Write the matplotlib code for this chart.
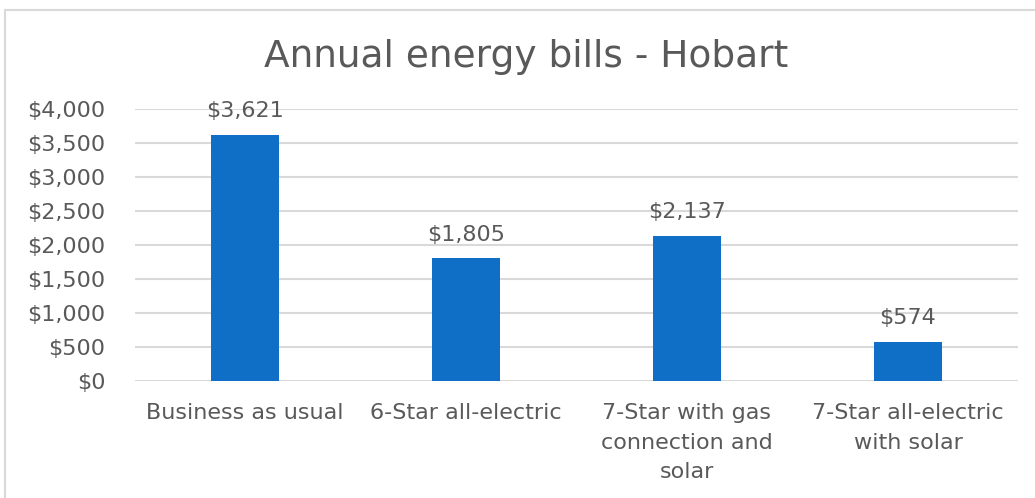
import matplotlib.pyplot as plt
from matplotlib.patches import Rectangle

categories = ["Business as usual", "6-Star all-electric",
              "7-Star with gas\nconnection and\nsolar", "7-Star all-electric\nwith solar"]
bills = [3621, 1805, 2137, 574]
y_ticks = [0, 500, 1000, 1500, 2000, 2500, 3000, 3500, 4000]

text_color = "#595959"
bar_color = "#0F6FC6"
grid_color = "#D9D9D9"

plt.rcParams['font.family'] = ['DejaVu Sans']

fig = plt.figure(figsize=(10.35, 4.98), dpi=100)
ax = fig.add_axes([0.130, 0.235, 0.854, 0.546])

x = range(len(categories))
ax.bar(x, bills, width=0.31, color=bar_color, zorder=3)
for xi, v in zip(x, bills):
    ax.text(xi, v + 200, f"${v:,}", ha='center', va='bottom', fontsize=16, color=text_color)

ax.set_xlim(-0.5, len(categories) - 0.5)
ax.set_ylim(0, 4000)
ax.set_yticks(y_ticks)
ax.set_yticklabels([f"${t:,}" for t in y_ticks], fontsize=16, color=text_color)
ax.set_xticks(list(x))
ax.set_xticklabels(categories, fontsize=16, color=text_color, linespacing=1.6, va='top')
ax.tick_params(axis='x', length=0, pad=16)
ax.tick_params(axis='y', length=0, pad=21)
ax.yaxis.grid(True, color=grid_color, linewidth=1.5, zorder=0)
ax.set_axisbelow(True)
for s in ax.spines.values():
    s.set_visible(False)

fig.text(0.508, 0.886, "Annual energy bills - Hobart", ha='center', va='center',
         fontsize=27, color=text_color)

fig.patches.append(Rectangle((5 / 1035, -0.1), 1.2, 1 - 10 / 498 + 0.1,
                             transform=fig.transFigure, fill=False,
                             edgecolor=grid_color, linewidth=1.5))

fig.savefig("out.png", dpi=100)
